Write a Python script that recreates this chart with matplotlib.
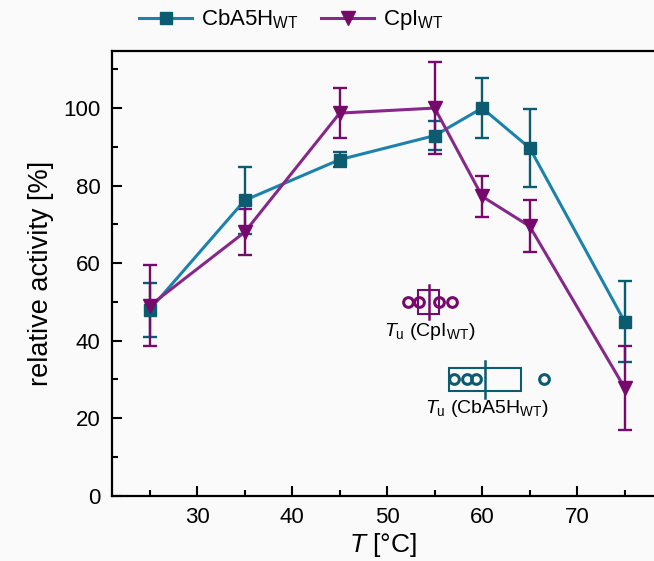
import matplotlib
matplotlib.use('Agg')
import matplotlib.pyplot as plt
from matplotlib.patches import Rectangle
from matplotlib.ticker import MultipleLocator

plt.rcParams['font.family'] = ['Liberation Sans', 'DejaVu Sans']
plt.rcParams['mathtext.fontset'] = 'custom'
plt.rcParams['mathtext.rm'] = 'Liberation Sans'
plt.rcParams['mathtext.it'] = 'Liberation Sans:italic'

# temperatures [°C]
temps = [25, 35, 45, 55, 60, 65, 75]

# relative activity [%] and errors
cba5h_act = [48.0, 76.2, 86.7, 92.9, 100.0, 89.7, 44.9]
cba5h_err = [7.0, 8.6, 2.0, 3.8, 7.7, 10.0, 10.4]
cpi_act = [49.0, 68.0, 98.7, 100.0, 77.2, 69.5, 27.8]
cpi_err = [10.5, 6.0, 6.5, 11.9, 5.2, 6.7, 10.9]

# unfolding temperatures (box: q1, median, q3; single measurements)
cpi_tu_box = [53.2, 54.4, 55.5]
cpi_tu_pts = [52.2, 53.3, 55.5, 56.8]
cpi_tu_y = 50
cba5h_tu_box = [56.5, 60.3, 64.1]
cba5h_tu_pts = [57.0, 58.4, 59.3, 66.5]
cba5h_tu_y = 30

c_line1, c_mark1 = '#1d82ab', '#0b5c70'
c_line2, c_mark2 = '#86288a', '#760a6c'
bg = '#fafafa'

fig = plt.figure(figsize=(6.54, 5.61), dpi=100, facecolor=bg)
ax = fig.add_axes([111.7 / 654, 1 - 495.7 / 561, 1 - 111.7 / 654, (495.7 - 50.7) / 561])
ax.set_facecolor(bg)

ax.errorbar(temps, cba5h_act, yerr=cba5h_err, fmt='none', ecolor=c_mark1,
            elinewidth=1.7, capsize=5, capthick=1.7, zorder=2)
ax.errorbar(temps, cpi_act, yerr=cpi_err, fmt='none', ecolor=c_mark2,
            elinewidth=1.7, capsize=5, capthick=1.7, zorder=2)
l1, = ax.plot(temps, cba5h_act, '-s', color=c_line1, mfc=c_mark1, mec=c_mark1,
              lw=2.2, ms=8.5, zorder=3)
l2, = ax.plot(temps, cpi_act, '-v', color=c_line2, mfc=c_mark2, mec=c_mark2,
              lw=2.2, ms=10, zorder=3)

# Tu boxes
for box, pts, y0, col, hh, mh in [(cpi_tu_box, cpi_tu_pts, cpi_tu_y, c_mark2, 3.1, 4.4),
                                   (cba5h_tu_box, cba5h_tu_pts, cba5h_tu_y, c_mark1, 3.0, 4.7)]:
    ax.add_patch(Rectangle((box[0], y0 - hh), box[2] - box[0], 2 * hh,
                           fill=False, ec=col, lw=1.5, zorder=4))
    ax.plot([box[1], box[1]], [y0 - mh, y0 + mh], color=col, lw=1.8, zorder=5)
    ax.plot(pts, [y0] * len(pts), 'o', mfc='none', mec=col, mew=2.2, ms=7, zorder=5)

ax.text(54.5, 42.3, r'$T_{\mathrm{u}}$ (CpI$_{\mathrm{WT}}$)', ha='center', va='center', fontsize=14)
ax.text(60.5, 22.6, r'$T_{\mathrm{u}}$ (CbA5H$_{\mathrm{WT}}$)', ha='center', va='center', fontsize=14)

ax.set_xlim(21, 21 + (654 - 111.7) / 9.5)
ax.set_ylim(0, 114.8)
ax.xaxis.set_major_locator(MultipleLocator(10))
ax.xaxis.set_minor_locator(MultipleLocator(5))
ax.yaxis.set_major_locator(MultipleLocator(20))
ax.yaxis.set_minor_locator(MultipleLocator(10))
ax.tick_params(which='both', direction='in', width=1.5, labelsize=16, pad=8)
ax.tick_params(which='major', length=7)
ax.tick_params(which='minor', length=4)
ax.spines['right'].set_visible(False)
for s in ['left', 'bottom', 'top']:
    ax.spines[s].set_linewidth(1.6)

ax.set_xlabel(r'$T$ [°C]', fontsize=19, labelpad=2)
ax.set_ylabel('relative activity [%]', fontsize=19.5, labelpad=7)

fig.legend([l1, l2], [r'CbA5H$_{\mathrm{WT}}$', r'CpI$_{\mathrm{WT}}$'], loc='center left',
           bbox_to_anchor=(130 / 654, 1 - 20 / 561), ncol=2, frameon=False, fontsize=16,
           handlelength=2.4, columnspacing=1.0, handletextpad=0.4, borderaxespad=0)

fig.savefig('out.png', dpi=100, facecolor=bg)
